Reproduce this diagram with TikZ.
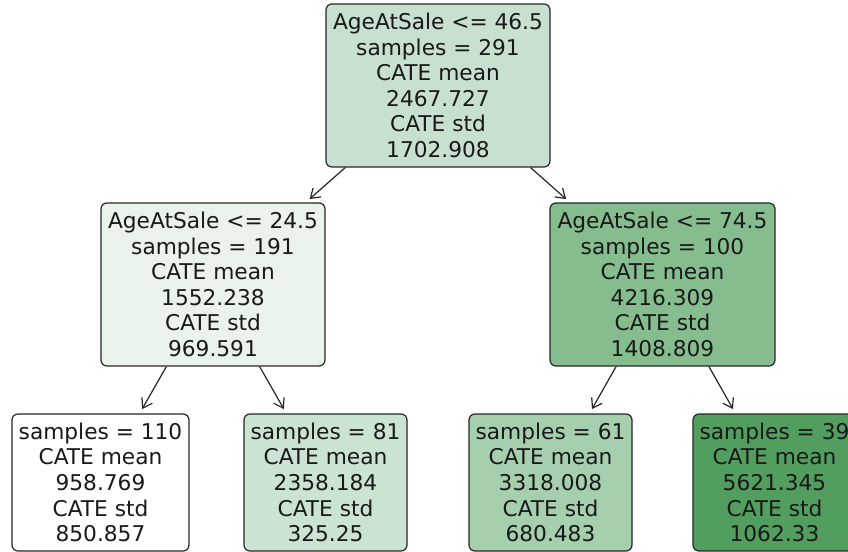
\documentclass[tikz,border=0pt]{standalone}
\usepackage{fontspec}
\setmainfont{DejaVu Sans}
\usetikzlibrary{arrows.meta}
\definecolor{croot}{RGB}{200,224,206}
\definecolor{clm}{RGB}{233,242,235}
\definecolor{crm}{RGB}{133,189,143}
\definecolor{cla}{RGB}{255,255,255}
\definecolor{clb}{RGB}{203,227,209}
\definecolor{clc}{RGB}{166,207,173}
\definecolor{cld}{RGB}{82,158,94}
\begin{document}
\begin{tikzpicture}[x=1bp,y=-1bp]
\tikzset{
  tnode/.style={draw=black!85, line width=1.2bp, rounded corners=6bp, align=center,
    font=\fontsize{21.7bp}{25.6bp}\selectfont, inner sep=0pt, text=black!90},
  bignode/.style={tnode, minimum width=224bp, minimum height=163bp},
  leafnode/.style={tnode, minimum width=163bp, minimum height=137bp},
  edge/.style={-{Straight Barb[length=9bp,width=12bp]}, line width=1.2bp, draw=black!85, shorten >=5bp}
}
\useasboundingbox (0,0) rectangle (848,552);
\node[bignode, fill=croot] (root) at (438,85.5) {AgeAtSale <= 46.5\\samples = 291\\CATE mean\\2467.727\\CATE std\\1702.908};
\node[bignode, fill=clm] (lm) at (213,284.5) {AgeAtSale <= 24.5\\samples = 191\\CATE mean\\1552.238\\CATE std\\969.591};
\node[bignode, fill=crm, minimum width=225bp] (rm) at (662.5,284.5) {AgeAtSale <= 74.5\\samples = 100\\CATE mean\\4216.309\\CATE std\\1408.809};
\node[leafnode, fill=cla, minimum width=177bp] (la) at (100.5,482.5) {samples = 110\\CATE mean\\958.769\\CATE std\\850.857};
\node[leafnode, fill=clb] (lb) at (325.5,482.5) {samples = 81\\CATE mean\\2358.184\\CATE std\\325.25};
\node[leafnode, fill=clc] (lc) at (550.5,482.5) {samples = 61\\CATE mean\\3318.008\\CATE std\\680.483};
\node[leafnode, fill=cld] (ld) at (774.5,482.5) {samples = 39\\CATE mean\\5621.345\\CATE std\\1062.33};
\draw[edge] (root) -- (lm);
\draw[edge] (root) -- (rm);
\draw[edge] (lm) -- (la);
\draw[edge] (lm) -- (lb);
\draw[edge] (rm) -- (lc);
\draw[edge] (rm) -- (ld);
\end{tikzpicture}
\end{document}
